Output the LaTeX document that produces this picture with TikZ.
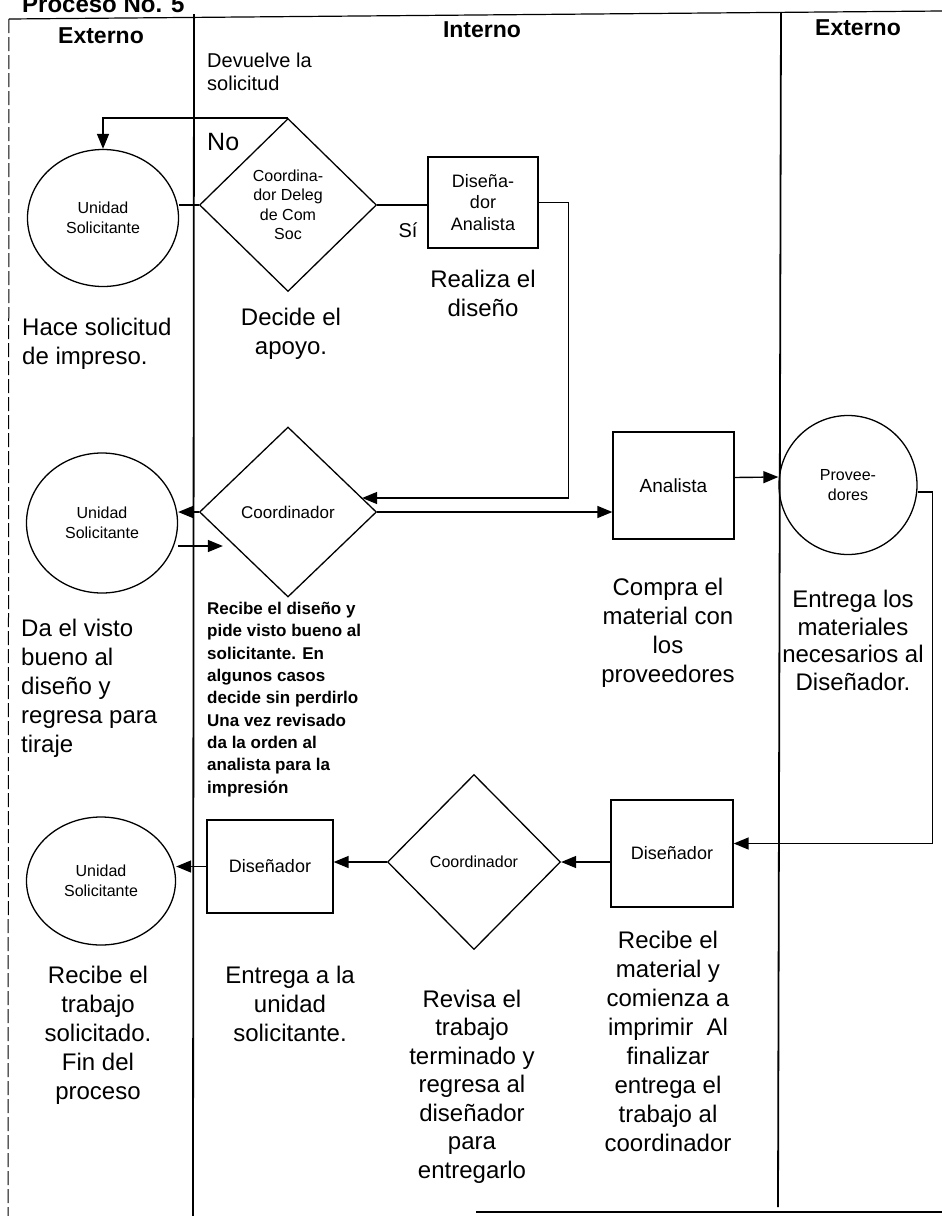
\documentclass[tikz,border=0pt]{standalone}
\usepackage{fontspec}
\setmainfont{Liberation Sans}
\usetikzlibrary{shapes.geometric,arrows.meta,calc}
\newcommand\txtsize[2]{\fontsize{#1}{#2}\selectfont}
\begin{document}
\begin{tikzpicture}[x=1pt,y=-1pt,
  lane/.style={line width=1.8pt},
  outline/.style={draw, line width=1.3pt, inner sep=1pt},
  actor/.style={outline, ellipse, font=\txtsize{16}{20}, align=center},
  decision/.style={outline, diamond, align=center},
  task/.style={outline, rectangle, align=center, font=\txtsize{18}{21.5}},
  flow/.style={line width=1.4pt, -{Triangle[length=15pt,width=12pt]}},
  link/.style={line width=1.4pt},
  note/.style={font=\txtsize{24}{29}, align=center, inner sep=0pt, anchor=base},
  head/.style={font=\bfseries\txtsize{23}{27}, inner sep=0pt, anchor=base},
]
\useasboundingbox (0,0) rectangle (942,1216);
\fill[white] (0,0) rectangle (942,1216);

% swimlane frame
\draw[line width=1.2pt] (9,19) -- (942,11);
\draw[lane] (194,14) -- (193,1216);
\draw[lane] (781,12) -- (778,1207);
\draw[line width=1.2pt] (476,1212) -- (942,1212);
\draw[line width=1pt, dash pattern=on 14pt off 4pt] (9,19) -- (8,1216);

% title and lane headers
\node[font=\bfseries\txtsize{24}{28}, anchor=base west, inner sep=0pt] (title) at (22,12) {Proceso No. 5};
\node[head] (h1) at (101,43) {Externo};
\node[head] (h2) at (482,37) {Interno};
\node[head] (h3) at (858,35) {Externo};

% first row
\node[actor, minimum width=151pt, minimum height=137pt] (c1) at (103,218) {Unidad\\Solicitante};
\node[decision, font=\txtsize{16}{19.5}, minimum width=177pt, minimum height=173pt] (d1) at (288,205) {Coordina-\\dor Deleg\\de Com\\Soc};
\node[task, minimum width=110pt, minimum height=91pt] (b1) at (483,202.5) {Diseña-\\dor\\Analista};

% second row
\node[actor, minimum width=151pt, minimum height=140pt] (c2) at (102,523) {Unidad\\Solicitante};
\node[decision, font=\txtsize{17}{20}, minimum width=177pt, minimum height=170pt] (d2) at (288,512) {Coordinador};
\node[task, font=\txtsize{19}{22}, minimum width=121pt, minimum height=107pt] (an) at (673.5,485.5) {Analista};
\node[actor, minimum width=138pt, minimum height=139pt] (pv) at (848,485) {Provee-\\dores};

% third row
\node[actor, minimum width=149pt, minimum height=128pt] (c3) at (101,881) {Unidad\\Solicitante};
\node[task, minimum width=126pt, minimum height=93pt] (dl) at (270,866.5) {Diseñador};
\node[decision, font=\txtsize{16}{19}, minimum width=173pt, minimum height=175pt] (d3) at (474,862) {Coordinador};
\node[task, minimum width=122pt, minimum height=107pt] (dr) at (672,853.5) {Diseñador};

% connectors
\draw[link] (d1.west) -- (c1.east |- d1.west);
\draw[flow] (d1.north) -| (c1.north);
\draw[link] (d1.east) -- (b1.west |- d1.east);
\coordinate (k1) at ($(b1.east)+(30,0)$);
\draw[flow] (b1.east) -- (k1) |- ($(d2.east)+(-15,-14)$);
\draw[flow] (d2.west) -- (c2.east |- d2.west);
\draw[flow] ($(c2.east)+(0,23)$) -- ($(d2.west)+(24,34)$);
\draw[flow] (d2.east) -- (an.west |- d2.east);
\draw[flow] ($(an.east)+(0,-8)$) -- ($(pv.west)+(0,-8)$);
\coordinate (k2) at ($(pv.east)+(15,7)$);
\draw[flow] ($(pv.east)+(0,7)$) -- (k2) |- ($(dr.east)+(0,-10)$);
\draw[flow] (dr.west |- d3.east) -- (d3.east);
\draw[flow] (d3.west) -- (dl.east |- d3.west);
\draw[flow] (dl.west) -- (c3.east |- dl.west);

% connector labels (multi-line nodes sit on the baseline of their last line)
\node[font=\txtsize{20}{23}, anchor=base west, align=left, inner sep=0pt] (dev) at (207,90) {Devuelve la\\solicitud};
\node[font=\txtsize{25}{29}, anchor=base west, inner sep=0pt] (no) at (207,150) {No};
\node[font=\txtsize{20}{24}, anchor=base, inner sep=0pt] (si) at (408,237) {Sí};

% step descriptions
\node[note, anchor=base west, align=left] (t1) at (22,364) {Hace solicitud\\de impreso.};
\node[note] (t2) at (291,354) {Decide el\\apoyo.};
\node[note] (t3) at (483,316) {Realiza el\\diseño};
\node[note, anchor=base west, align=left] (t4) at (21,752) {Da el visto\\bueno al\\diseño y\\regresa para\\tiraje};
\node[font=\bfseries\txtsize{17}{22.3}, anchor=base west, align=left, inner sep=0pt] (t5) at (207,793) {Recibe el diseño y\\pide visto bueno al\\solicitante. En\\algunos casos\\decide sin perdirlo\\Una vez revisado\\da la orden al\\analista para la\\impresión};
\node[note] (t6) at (668,682) {Compra el\\material con\\los\\proveedores};
\node[note, font=\txtsize{24}{27.5}] (t7) at (853,690) {Entrega los\\materiales\\necesarios al\\Diseñador.};
\node[note] (t8) at (98,1099) {Recibe el\\trabajo\\solicitado.\\Fin del\\proceso};
\node[note] (t9) at (290,1041) {Entrega a la\\unidad\\solicitante.};
\node[note, font=\txtsize{24}{28.5}] (t10) at (472,1178) {Revisa el\\trabajo\\terminado y\\regresa al\\diseñador\\para\\entregarlo};
\node[note] (t11) at (668,1151) {Recibe el\\material y\\comienza a\\imprimir\ \ Al\\finalizar\\entrega el\\trabajo al\\coordinador};
\end{tikzpicture}
\end{document}
